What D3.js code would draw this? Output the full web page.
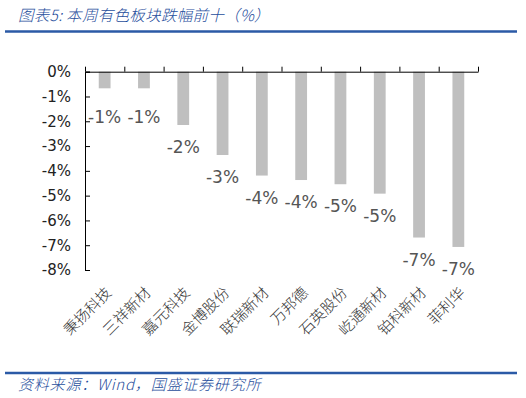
<!DOCTYPE html>
<html>
<head>
<meta charset="utf-8">
<script src="https://cdn.jsdelivr.net/npm/d3@7"></script>
<style>
  body { margin: 0; background: #fff; }
  svg { display: block; }
</style>
</head>
<body>
<svg width="526" height="398"></svg>
<script>
// data
var names = ["秉扬科技", "三祥新材", "嘉元科技", "金博股份", "联瑞新材", "万邦德", "石英股份", "屹通新材", "铂科新材", "菲利华"];
var changes = [-0.67, -0.67, -2.15, -3.36, -4.19, -4.37, -4.54, -4.92, -6.69, -7.07];
var yTicks = [0, -1, -2, -3, -4, -5, -6, -7, -8];

var title = "图表5:  本周有色板块跌幅前十（%）";
var source = "资料来源：Wind，国盛证券研究所";

var svg = d3.select("svg");
var blue = "#2b5aa6";

// header + footer
svg.append("text")
  .attr("x", 18).attr("y", 21)
  .attr("font-family", "Noto Sans CJK SC")
  .attr("font-style", "italic")
  .attr("font-weight", 300)
  .attr("font-size", "15.5px")
  .attr("letter-spacing", "0.3px")
  .attr("fill", "#1f4e9c")
  .text(title);
svg.append("line")
  .attr("x1", 5).attr("x2", 517).attr("y1", 31.5).attr("y2", 31.5)
  .attr("stroke", blue).attr("stroke-width", 2.5);
svg.append("line")
  .attr("x1", 5).attr("x2", 517).attr("y1", 373).attr("y2", 373)
  .attr("stroke", blue).attr("stroke-width", 2.5);
svg.append("text")
  .attr("x", 18).attr("y", 390)
  .attr("font-family", "Noto Sans CJK SC")
  .attr("font-style", "italic")
  .attr("font-weight", 300)
  .attr("font-size", "15px")
  .attr("letter-spacing", "0.8px")
  .attr("fill", "#1f4e9c")
  .text(source);

// scales
var x = d3.scaleBand().domain(names).range([85, 478]).paddingInner(0.7).paddingOuter(0.35);
var y = d3.scaleLinear().domain([-8, 0]).range([270, 71.7]);

// bars
svg.selectAll(".bar")
  .data(changes)
  .enter()
  .append("rect")
  .attr("class", "bar")
  .attr("x", (d, i) => x(names[i]))
  .attr("y", y(0))
  .attr("width", x.bandwidth())
  .attr("height", d => y(d) - y(0))
  .style("fill", "#bfbfbf");

// y axis (ticks point inward)
var yAxis = svg.append("g")
  .attr("transform", "translate(85,0)")
  .call(d3.axisLeft(y).tickValues(yTicks).tickSize(-5).tickPadding(14)
    .tickFormat(d => d + "%"));
yAxis.select(".domain").attr("stroke", "#000");
yAxis.selectAll(".tick line").attr("stroke", "#000");
yAxis.selectAll("text")
  .attr("font-family", "DejaVu Sans")
  .attr("font-size", "15px")
  .attr("fill", "#222");

// zero line with ticks on top
var band = d3.scalePoint().domain(d3.range(names.length + 1)).range([85, 478]);
var xTop = svg.append("g")
  .attr("transform", `translate(0, ${y(0)})`)
  .call(d3.axisTop(band).tickSize(5).tickSizeOuter(0).tickFormat(""));
xTop.selectAll("line, path").attr("stroke", "#000");

// category labels under the plot
var xBottom = svg.append("g")
  .attr("transform", `translate(0, ${y(-8)})`)
  .call(d3.axisBottom(x).tickSize(0));
xBottom.select(".domain").remove();
xBottom.selectAll("text")
  .attr("font-family", "Noto Sans CJK SC")
  .attr("font-weight", 300)
  .attr("font-size", "15px")
  .attr("fill", "#333")
  .attr("text-anchor", "end")
  .attr("y", 0)
  .attr("dy", "0.35em")
  .attr("transform", "translate(4,20) rotate(-45)");

// data labels
svg.selectAll(".lbl")
  .data(changes)
  .enter()
  .append("text")
  .attr("class", "lbl")
  .attr("x", (d, i) => x(names[i]) + x.bandwidth() / 2)
  .attr("y", d => Math.max(y(d) + 28, y(0) + 51))
  .attr("text-anchor", "middle")
  .attr("font-family", "DejaVu Sans")
  .attr("font-size", "17px")
  .attr("fill", "#555")
  .text(d => Math.round(d) + "%");
</script>
</body>
</html>
